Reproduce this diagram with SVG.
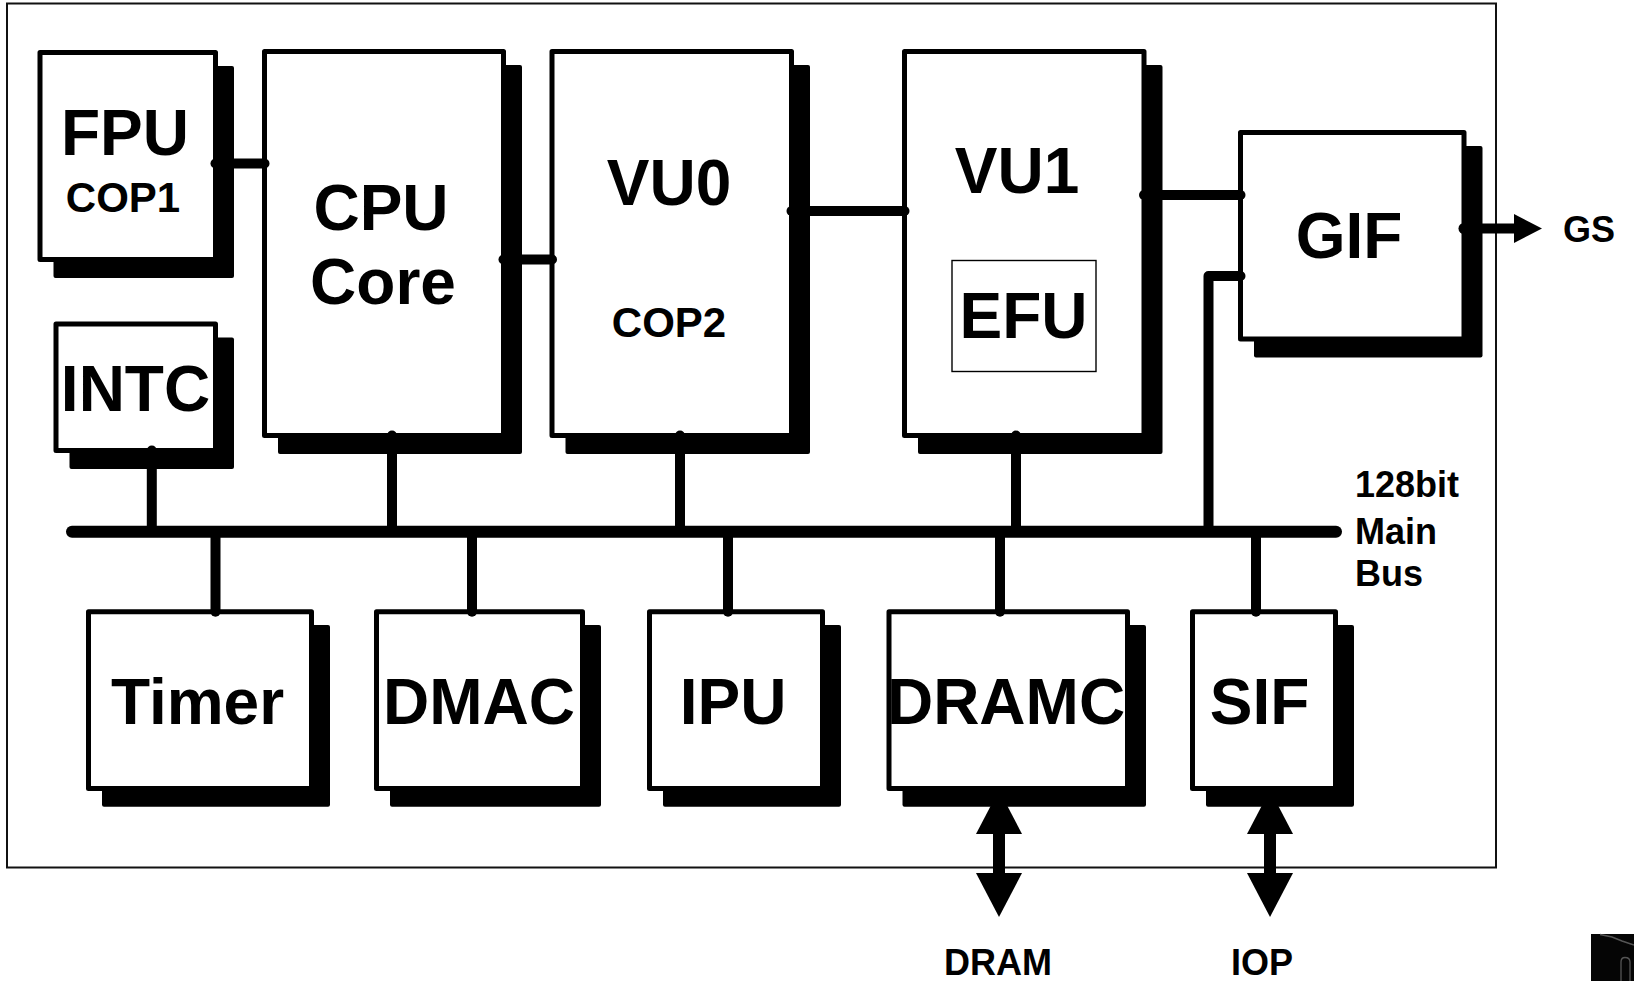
<svg xmlns="http://www.w3.org/2000/svg" width="1634" height="981" viewBox="0 0 1634 981">
<style>
.frame{fill:none;stroke:#111;stroke-width:2}
.sh{fill:#000}
.box{fill:#fff;stroke:#000;stroke-width:5;stroke-linejoin:round}
.thin{fill:#fff;stroke:#000;stroke-width:1.4}
.con{fill:none;stroke:#000;stroke-width:10;stroke-linecap:round;stroke-linejoin:round}
.bus{fill:none;stroke:#000;stroke-width:12;stroke-linecap:round}
.shaft{fill:none;stroke:#000;stroke-width:12}
.head{fill:#000}
text{font-family:"Liberation Sans",Arial,Helvetica,sans-serif;font-weight:bold;fill:#000}
.big{font-size:64px;text-anchor:middle}
.mid{font-size:42px;text-anchor:middle}
.lbl{font-size:36px}
.lblc{font-size:36px;text-anchor:middle}
</style>
<rect width="1634" height="981" fill="#fff"/>
<rect class="frame" x="7" y="3.5" width="1489" height="864"/>

<g id="arrows-external">
  <line class="shaft" x1="999" y1="830" x2="999" y2="877"/>
  <polygon class="head" points="976,834 999,790 1022,834"/>
  <polygon class="head" points="976,873 1022,873 999,917"/>
  <line class="shaft" x1="1270" y1="830" x2="1270" y2="877"/>
  <polygon class="head" points="1247,834 1270,790 1293,834"/>
  <polygon class="head" points="1247,873 1293,873 1270,917"/>
</g>

<g id="FPU">
  <rect class="sh" x="53.5" y="66" width="180.5" height="212" rx="2"/>
  <rect class="box" x="40" y="52.5" width="175.5" height="207"/>
  <text class="big" x="125" y="155" font-size="65">FPU</text>
  <text class="mid" x="123" y="211.5" font-size="41">COP1</text>
</g>
<g id="CPU">
  <rect class="sh" x="278" y="65" width="244" height="389" rx="2"/>
  <rect class="box" x="264.5" y="51.5" width="239" height="384"/>
  <text class="big" x="381" y="230">CPU</text>
  <text class="big" x="383" y="304">Core</text>
</g>
<g id="INTC">
  <rect class="sh" x="69.5" y="337.5" width="164.5" height="131.5" rx="2"/>
  <rect class="box" x="56" y="324" width="159.5" height="126.5"/>
  <text class="big" x="135.5" y="411">INTC</text>
</g>
<g id="VU0">
  <rect class="sh" x="565.5" y="65" width="244.5" height="389" rx="2"/>
  <rect class="box" x="552" y="51.5" width="239.5" height="384"/>
  <text class="big" x="669" y="205">VU0</text>
  <text class="mid" x="669" y="337">COP2</text>
</g>
<g id="VU1">
  <rect class="sh" x="918" y="65" width="244.5" height="389" rx="2"/>
  <rect class="box" x="904.5" y="51.5" width="239.5" height="384"/>
  <text class="big" x="1017" y="193">VU1</text>
  <g id="EFU">
    <rect class="thin" x="952" y="260.5" width="144" height="111"/>
    <text class="big" x="1023.5" y="338">EFU</text>
  </g>
</g>
<g id="GIF">
  <rect class="sh" x="1254" y="146" width="228.5" height="211.5" rx="2"/>
  <rect class="box" x="1240.5" y="132.5" width="223.5" height="206.5"/>
  <text class="big" x="1349" y="258">GIF</text>
</g>
<g id="Timer">
  <rect class="sh" x="102" y="625" width="228" height="181.7" rx="2"/>
  <rect class="box" x="88.5" y="611.8" width="223" height="176.7"/>
  <text class="big" x="197.5" y="723.5">Timer</text>
</g>
<g id="DMAC">
  <rect class="sh" x="390" y="625" width="211" height="181.7" rx="2"/>
  <rect class="box" x="376.5" y="611.8" width="206" height="176.7"/>
  <text class="big" x="479" y="723.5">DMAC</text>
</g>
<g id="IPU">
  <rect class="sh" x="663" y="625" width="178" height="181.7" rx="2"/>
  <rect class="box" x="649.5" y="611.8" width="173" height="176.7"/>
  <text class="big" x="733" y="723.5">IPU</text>
</g>
<g id="DRAMC">
  <rect class="sh" x="902.5" y="625" width="243.5" height="181.7" rx="2"/>
  <rect class="box" x="889" y="611.8" width="238.5" height="176.7"/>
  <text class="big" x="1006" y="723.5" font-size="63">DRAMC</text>
</g>
<g id="SIF">
  <rect class="sh" x="1206" y="625" width="148" height="181.7" rx="2"/>
  <rect class="box" x="1192.5" y="611.8" width="143" height="176.7"/>
  <text class="big" x="1259.5" y="723.5">SIF</text>
</g>

<g id="connectors">
  <line class="con" x1="215.5" y1="163.5" x2="264.5" y2="163.5"/>
  <line class="con" x1="503.5" y1="259.5" x2="552" y2="259.5"/>
  <line class="con" x1="791.5" y1="211" x2="904.5" y2="211"/>
  <line class="con" x1="1144" y1="195" x2="1240.5" y2="195"/>
  <path class="con" d="M1240.5,276 H1208.5 V531.7"/>
  <line class="con" x1="1464" y1="228.5" x2="1516" y2="228.5" stroke-linecap="butt"/>
  <circle cx="1464" cy="228.5" r="5.5"/>
  <polygon class="head" points="1514,214 1542,228.5 1514,243"/>
  <line class="bus" x1="72" y1="531.7" x2="1336" y2="531.7"/>
  <line class="con" x1="151.8" y1="450.5" x2="151.8" y2="531.7"/>
  <line class="con" x1="392" y1="435.5" x2="392" y2="531.7"/>
  <line class="con" x1="680" y1="435.5" x2="680" y2="531.7"/>
  <line class="con" x1="1016" y1="435.5" x2="1016" y2="531.7"/>
  <line class="con" x1="215.5" y1="531.7" x2="215.5" y2="611.8"/>
  <line class="con" x1="472" y1="531.7" x2="472" y2="611.8"/>
  <line class="con" x1="728" y1="531.7" x2="728" y2="611.8"/>
  <line class="con" x1="1000" y1="531.7" x2="1000" y2="611.8"/>
  <line class="con" x1="1256" y1="531.7" x2="1256" y2="611.8"/>
</g>

<g id="labels">
  <text class="lbl" x="1589" y="242" text-anchor="middle" font-size="37">GS</text>
  <text class="lbl" x="1355" y="497">128bit</text>
  <text class="lbl" x="1355" y="544">Main</text>
  <text class="lbl" x="1355" y="586">Bus</text>
  <text class="lblc" x="998" y="975">DRAM</text>
  <text class="lblc" x="1262" y="975">IOP</text>
</g>

<g id="corner-artifact">
  <rect x="1591" y="934" width="43" height="47" fill="#050505"/>
  <polyline points="1600,934.5 1612,937 1622,941 1634,945" fill="none" stroke="#555" stroke-width="1.5"/>
  <path d="M1621,981 V962 Q1621,957.5 1625,957.5 Q1630,957.5 1630,962 V981" fill="none" stroke="#555" stroke-width="1.3"/>
</g>
</svg>
